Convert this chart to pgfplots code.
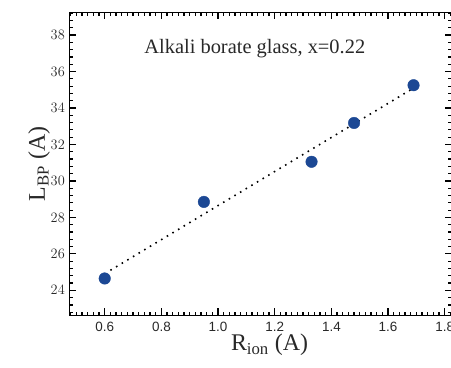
\documentclass[border=0pt]{standalone}
\usepackage{fontspec}
\setmainfont{Liberation Serif}
\newfontfamily\arial{Liberation Sans}
\usepackage{pgfplots}
\pgfplotsset{compat=1.18}
\definecolor{dotblue}{RGB}{28,72,148}
\definecolor{txt}{RGB}{40,40,40}
\begin{document}
\begin{tikzpicture}
\begin{axis}[
  scale only axis,
  width=382.5bp, height=303bp,
  xmin=0.475, xmax=1.825,
  ymin=22.63, ymax=39.25,
  xtick={0.6,0.8,1.0,1.2,1.4,1.6,1.8},
  xticklabels={0.6,0.8,1.0,1.2,1.4,1.6,1.8},
  ytick={24,26,28,30,32,34,36,38},
  minor xtick={0.48,0.5,0.52,0.54,0.56,0.58,0.62,0.64,0.66,0.68,0.7,0.72,0.74,0.76,0.78,0.82,0.84,0.86,0.88,0.9,0.92,0.94,0.96,0.98,1.02,1.04,1.06,1.08,1.1,1.12,1.14,1.16,1.18,1.22,1.24,1.26,1.28,1.3,1.32,1.34,1.36,1.38,1.42,1.44,1.46,1.48,1.5,1.52,1.54,1.56,1.58,1.62,1.64,1.66,1.68,1.7,1.72,1.74,1.76,1.78,1.82},
  minor ytick={22.8,23.2,23.6,24.4,24.8,25.2,25.6,26.4,26.8,27.2,27.6,28.4,28.8,29.2,29.6,30.4,30.8,31.2,31.6,32.4,32.8,33.2,33.6,34.4,34.8,35.2,35.6,36.4,36.8,37.2,37.6,38.4,38.8,39.2},
  tick align=inside,
  major tick length=7pt,
  minor tick length=3.5pt,
  tick style={draw=black, line width=1.2pt},
  tick label style={font=\arial\fontsize{13.5}{14}\selectfont, text=txt},
  x tick label style={yshift=-3pt},
  y tick label style={xshift=-1pt},
  xlabel={R\textsubscript{ion} (A)},
  ylabel={L\textsubscript{BP} (A)},
  label style={font=\fontsize{24}{24}\selectfont, text=txt},
  xlabel style={yshift=4pt, xshift=9pt},
  ylabel style={yshift=-6pt},
  axis line style={line width=1.3pt},
]
\addplot[black, line width=1.6pt, dash pattern=on 1.6pt off 5pt] coordinates {(0.62,25.1) (1.68,35.0)};
\addplot[only marks, mark=*, mark size=5.8pt, mark options={fill=dotblue, draw=dotblue}] coordinates {
(0.60,24.65)
(0.95,28.85)
(1.33,31.05)
(1.48,33.18)
(1.69,35.25)
};
\node[font=\fontsize{20.5}{21}\selectfont, text=txt] at (rel axis cs:0.485,0.881) {Alkali borate glass, x=0.22};
\end{axis}
\pgfresetboundingbox
\useasboundingbox (-69.3bp,-52bp) rectangle (381.7bp,315.3bp);
\end{tikzpicture}
\end{document}
